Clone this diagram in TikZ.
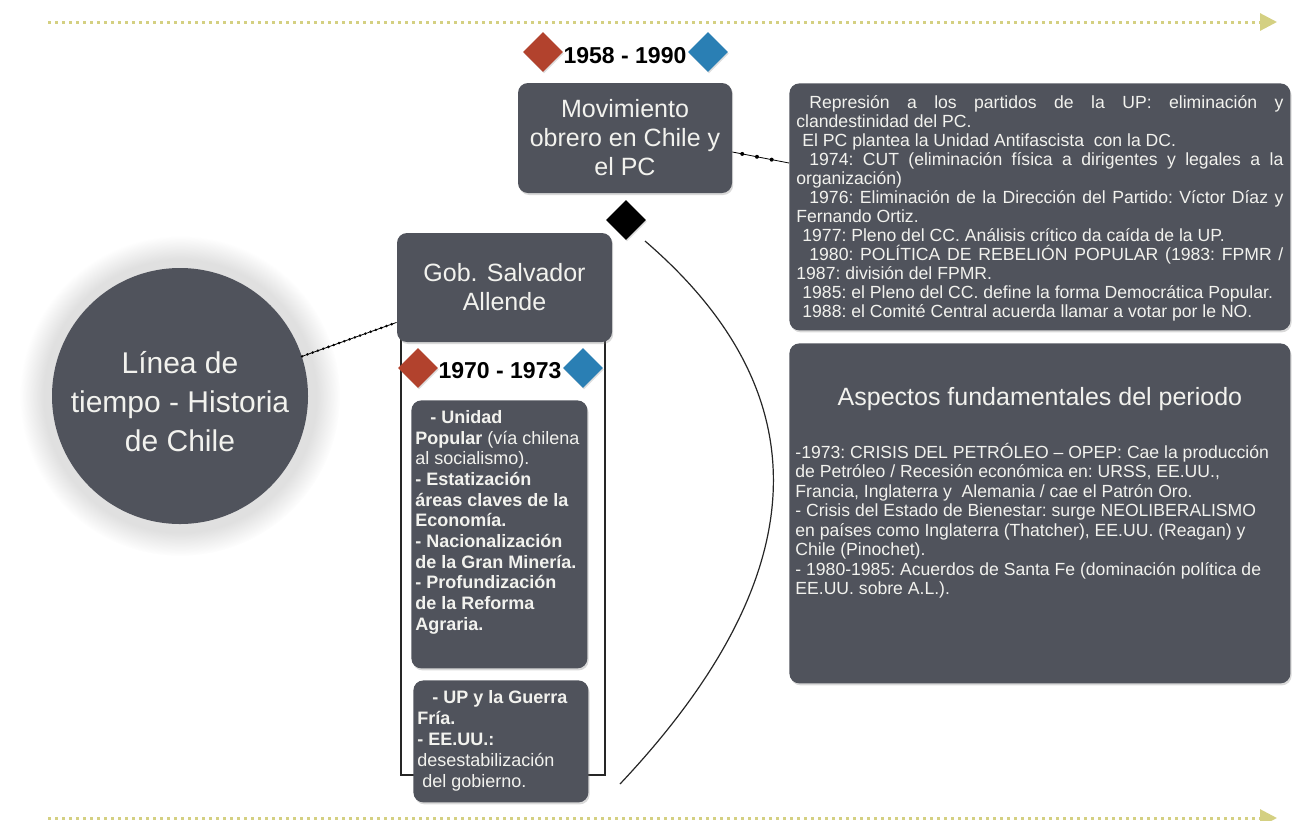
\documentclass[tikz,border=0pt]{standalone}
\usepackage{fontspec}
\setmainfont{Liberation Sans}
\usetikzlibrary{shapes.geometric,fadings,shadows,arrows.meta}
\definecolor{tlgold}{RGB}{212,208,130}
\definecolor{boxgray}{RGB}{80,83,92}
\definecolor{boxtext}{RGB}{242,242,238}
\definecolor{gemred}{RGB}{178,66,45}
\definecolor{gemblue}{RGB}{42,127,180}
\newcommand{\natspace}{\spaceskip=0pt\xspaceskip=0pt\frenchspacing}
\newcommand{\jline}[1]{\makebox[\hsize][s]{#1}}
\newcommand{\pline}[1]{\makebox[\hsize][l]{#1}}

\begin{document}
\begin{tikzpicture}[x=0.5pt, y=-0.5pt,
  darkbox/.style={fill=boxgray, text=boxtext, rounded corners=5pt,
    drop shadow={shadow xshift=0.6pt, shadow yshift=-1pt, opacity=0.3}},
  titlebox/.style={darkbox, align=center, font=\fontsize{12.5}{14.5}\selectfont},
  notebox/.style={darkbox, anchor=north west, align=left, inner ysep=0pt},
  datelabel/.style={font=\fontsize{11.5}{13}\selectfont\bfseries, anchor=base},
  gem/.style={diamond, aspect=1, inner sep=0pt, minimum width=20pt, minimum height=20pt,
    drop shadow={shadow xshift=0.5pt, shadow yshift=-0.8pt, opacity=0.25}},
  timeline/.style={tlgold, line width=1.5pt, dash pattern=on 1.5pt off 2pt,
    -{Triangle[length=8.5pt, width=8.5pt]}},
  sparsebeads/.style={black, line width=0.4pt,
    postaction={draw, line width=2pt, dash pattern=on 0pt off 7.5pt, dash phase=2.5pt,
      line cap=round, shorten >=5pt}},
  densebeads/.style={black, line width=0.4pt,
    postaction={draw, line width=1.4pt, dash pattern=on 0pt off 2.8pt, line cap=round}},
  arcline/.style={black!85, line width=0.6pt}]
  \useasboundingbox (0,0) rectangle (1293,820);

  % timelines
  \coordinate (tltopa) at (48,22);
  \coordinate (tltopb) at (1277,22);
  \coordinate (tlbota) at (48,818);
  \coordinate (tlbotb) at (1277,818);
  \draw[timeline] (tltopa) -- (tltopb);
  \draw[timeline] (tlbota) -- (tlbotb);

  % main circle
  \node[circle, fill=boxgray, text=boxtext, minimum size=128pt, inner sep=0pt,
    align=center, font=\fontsize{15}{19.5}\selectfont, text height=56pt,
    circular glow={fill=black, opacity=0.12}] (hist) at (180,396)
    {Línea de\\tiempo - Historia\\de Chile};

  % 1958 - 1990
  \node[datelabel] (d58) at (625,63) {1958 - 1990};
  \node[gem, fill=gemred] (d58a) at (543,52) {};
  \node[gem, fill=gemblue] (d58b) at (708,52) {};
  \node[titlebox, minimum width=107pt, minimum height=55pt] (mov) at (625,138)
    {Movimiento\\obrero en Chile y\\el PC};
  \node[gem, fill=black] (hub) at (626,220) {};

  % 1970 - 1973
  \draw[line width=0.7pt, black!85] (401,300) rectangle (605,775);
  \node[titlebox, minimum width=107.5pt, minimum height=54.5pt] (gob) at (504.5,287.5)
    {Gob. Salvador\\Allende};
  \node[datelabel] (d70) at (500,378) {1970 - 1973};
  \node[gem, fill=gemred] (d70a) at (418,368) {};
  \node[gem, fill=gemblue] (d70b) at (583,368) {};

  \node[notebox, text width=84pt, inner xsep=2pt, text height=11.5pt, text depth=122.5pt,
    font=\fontsize{9}{10.33}\selectfont] (upbox) at (411,400)
    {\natspace\textbf{\hspace*{7.5pt}- Unidad}\\
     \textbf{Popular} (vía chilena\\
     al socialismo).\\
     \textbf{- Estatización}\\
     \textbf{áreas claves de la}\\
     \textbf{Economía.}\\
     \textbf{- Nacionalización}\\
     \textbf{de la Gran Minería.}\\
     \textbf{- Profundización}\\
     \textbf{de la Reforma}\\
     \textbf{Agraria.}};
  \node[notebox, text width=83.5pt, inner xsep=2pt, text height=11.5pt, text depth=49.5pt,
    font=\fontsize{9}{10.5}\selectfont] (cwbox) at (413,680)
    {\natspace\textbf{\hspace*{7.5pt}- UP y la Guerra}\\
     \textbf{Fría.}\\
     \textbf{- EE.UU.:}\\
     desestabilización\\
     \hspace*{2.5pt}del gobierno.};

  % right column
  \node[notebox, text width=243.5pt, inner xsep=3.5pt, text height=12.5pt, text depth=111pt,
    font=\fontsize{8.8}{9.5}\selectfont] (rep) at (789,83)
    {\natspace
     \jline{\hspace*{6.5pt}Represión a los partidos de la UP: eliminación y}\\
     \pline{clandestinidad del PC.}\\
     \pline{\hspace*{3pt}El PC plantea la Unidad Antifascista\ \ con la DC.}\\
     \jline{\hspace*{6.5pt}1974: CUT (eliminación física a dirigentes y legales a la}\\
     \pline{organización)}\\
     \jline{\hspace*{6.5pt}1976: Eliminación de la Dirección del Partido: Víctor Díaz y}\\
     \pline{Fernando Ortiz.}\\
     \pline{\hspace*{3pt}1977: Pleno del CC. Análisis crítico da caída de la UP.}\\
     \jline{\hspace*{6.5pt}1980: POLÍTICA DE REBELIÓN POPULAR (1983: FPMR /}\\
     \pline{1987: división del FPMR.}\\
     \pline{\hspace*{3pt}1985: el Pleno del CC. define la forma Democrática Popular.}\\
     \pline{\hspace*{3pt}1988: el Comité Central acuerda llamar a votar por le NO.}};
  \node[notebox, text width=244.5pt, inner xsep=3pt, text height=31pt, text depth=139pt,
    font=\fontsize{8.8}{9.75}\selectfont] (asp) at (789,343)
    {\natspace
     {\fontsize{12.5}{14.5}\selectfont\makebox[\hsize]{Aspectos fundamentales del periodo}}\\[15.25pt]
     \pline{-1973: CRISIS DEL PETRÓLEO – OPEP: Cae la producción}\\
     \pline{de Petróleo / Recesión económica en: URSS, EE.UU.,}\\
     \pline{Francia, Inglaterra y\ \ Alemania / cae el Patrón Oro.}\\
     \pline{- Crisis del Estado de Bienestar: surge NEOLIBERALISMO}\\
     \pline{en países como Inglaterra (Thatcher), EE.UU. (Reagan) y}\\
     \pline{Chile (Pinochet).}\\
     \pline{- 1980-1985: Acuerdos de Santa Fe (dominación política de}\\
     \pline{EE.UU. sobre A.L.).}};

  % connectors
  \draw[densebeads] (hist.18) -- ([yshift=10pt]gob.south west);
  \draw[sparsebeads] ([yshift=-7pt]mov.east) -- ([yshift=-40pt]rep.north west);
  \coordinate (arca) at ([shift={(19,21)}]hub.center);
  \coordinate (arcb) at (620,784);
  \draw[arcline] (arca) .. controls (824,395) and (816,576) .. (arcb);
\end{tikzpicture}
\end{document}
